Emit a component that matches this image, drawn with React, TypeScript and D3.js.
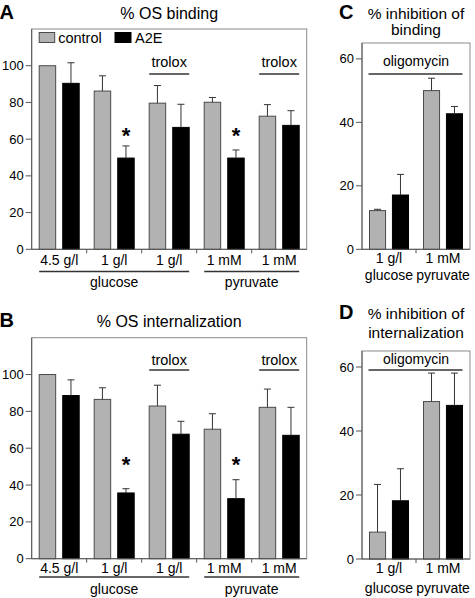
import React from 'react';
import * as d3 from 'd3';

// ---------- data ----------
const seriesNames = ['control', 'A2E'];
const mediumLabelsAB = ['4.5 g/l', '1 g/l', '1 g/l', '1 mM', '1 mM'];
const mediumSpansAB = [
  { label: 'glucose', from: 0, to: 2 },
  { label: 'pyruvate', from: 3, to: 4 },
];
const troloxGroups = [2, 4];
const starredGroups = [1, 3];
const ticksAB = [0, 20, 40, 60, 80, 100];
const yMaxAB = 120;

const controlBinding = [100, 86.2, 79.6, 80.1, 72.5];
const controlBindingErr = [0, 8.3, 9.6, 2.6, 6.3];
const a2eBinding = [90.4, 49.7, 66.4, 49.7, 67.5];
const a2eBindingErr = [11.2, 6.6, 12.6, 4.4, 8.0];

const controlInternal = [100, 86.5, 82.9, 70.3, 82.2];
const controlInternalErr = [0, 6.3, 11.3, 8.4, 9.9];
const a2eInternal = [88.6, 35.7, 67.6, 32.6, 67.0];
const a2eInternalErr = [8.5, 2.3, 7.0, 10.3, 15.2];

const mediumLabelsCD = ['1 g/l', '1 mM'];
const mediumNamesCD = ['glucose', 'pyruvate'];
const ticksCD = [0, 20, 40, 60];
const yMaxCD = 65;

const controlInhibBinding = [12.2, 50.0];
const controlInhibBindingErr = [0.4, 3.9];
const a2eInhibBinding = [17.1, 42.7];
const a2eInhibBindingErr = [6.5, 2.3];

const controlInhibInternal = [8.4, 49.2];
const controlInhibInternalErr = [14.9, 8.9];
const a2eInhibInternal = [18.2, 48.0];
const a2eInhibInternalErr = [10.0, 10.1];

// ---------- style ----------
const FONT = '"Liberation Sans", Arial, Helvetica, sans-serif';
const GRAY = '#b2b2b2';
const BLACK = '#000';
const FRAME = '#8a8a8a';
const AXIS = '#555';
const DARK = '#333';

type PanelCfg = {
  letter: string;
  titleLines: string[];
  titleY: number[];
  titleSize: number;
  x0: number; x1: number; yTop: number; yBottom: number;
  yMax: number; ticks: number[];
  labels: string[];
  control: number[]; controlErr: number[];
  a2e: number[]; a2eErr: number[];
  labelY: number;
  spans?: { label: string; from: number; to: number }[];
  spanLineY?: number; spanTextY?: number;
  names?: string[]; namesY?: number;
  trolox?: number[]; troloxTextY?: number; troloxLineY?: number;
  stars?: number[]; starOffset?: number;
  oligo?: boolean; oligoTextY?: number; oligoLineY?: number;
  legend?: boolean;
};

function Panel({ c }: { c: PanelCfg }) {
  const idx = d3.range(c.labels.length).map(String);
  const x = d3.scaleBand<string>().domain(idx).range([c.x0, c.x1]).padding(0);
  const bw = x.bandwidth();
  const inner = d3.scaleBand<string>().domain(seriesNames).range([7.5, bw - 7.5]).paddingInner(0.3).paddingOuter(0);
  const y = d3.scaleLinear().domain([0, c.yMax]).range([c.yBottom, c.yTop]);
  const series = [
    { name: 'control', vals: c.control, errs: c.controlErr, fill: GRAY, stroke: '#4a4a4a' },
    { name: 'A2E', vals: c.a2e, errs: c.a2eErr, fill: BLACK, stroke: BLACK },
  ];
  const gStart = (i: number) => (x(String(i)) as number) + (inner('control') as number);
  const gEnd = (i: number) => (x(String(i)) as number) + (inner('A2E') as number) + inner.bandwidth();
  const cx = (i: number) => (x(String(i)) as number) + bw / 2;
  const midX = (c.x0 + c.x1) / 2;

  return (
    <g fontFamily={FONT}>
      {/* letter and title */}
      <text x={c.x0 < 100 ? -0.5 : 339} y={c.titleY[0]} fontSize={20} fontWeight="bold">{c.letter}</text>
      {c.titleLines.map((t, i) => (
        <text key={i} x={midX} y={c.titleY[i]} fontSize={c.titleSize} textAnchor="middle">{t}</text>
      ))}
      {/* frame */}
      <rect x={c.x0} y={c.yTop} width={c.x1 - c.x0} height={c.yBottom - c.yTop} fill="none" stroke={FRAME} strokeWidth={1} />
      {/* bars */}
      {series.map((s) =>
        s.vals.map((v, i) => {
          const bx = (x(String(i)) as number) + (inner(s.name) as number);
          return (
            <rect key={s.name + i} x={bx} y={y(v)} width={inner.bandwidth()} height={y(0) - y(v)}
              fill={s.fill} stroke={s.stroke} strokeWidth={1} />
          );
        })
      )}
      {/* error bars */}
      {series.map((s) =>
        s.vals.map((v, i) => {
          const e = s.errs[i];
          if (!e) return null;
          const ex = (x(String(i)) as number) + (inner(s.name) as number) + inner.bandwidth() / 2;
          return (
            <g key={'e' + s.name + i} stroke={DARK} strokeWidth={1}>
              <line x1={ex} x2={ex} y1={y(v)} y2={y(v + e)} />
              <line x1={ex - 3.5} x2={ex + 3.5} y1={y(v + e)} y2={y(v + e)} />
            </g>
          );
        })
      )}
      {/* axes */}
      <line x1={c.x0} x2={c.x0} y1={c.yTop} y2={c.yBottom} stroke={AXIS} strokeWidth={1} />
      <line x1={c.x0} x2={c.x1} y1={c.yBottom} y2={c.yBottom} stroke={AXIS} strokeWidth={1} />
      {c.ticks.map((t) => (
        <g key={'t' + t}>
          <line x1={c.x0 - 6} x2={c.x0} y1={y(t)} y2={y(t)} stroke={AXIS} strokeWidth={1} />
          <text x={c.x0 - 8} y={y(t) + 4.5} fontSize={13} textAnchor="end">{t}</text>
        </g>
      ))}
      {idx.slice(1).map((k) => (
        <line key={'s' + k} x1={x(k)} x2={x(k)} y1={c.yBottom} y2={c.yBottom + 4} stroke={AXIS} strokeWidth={1} />
      ))}
      {/* category labels */}
      {c.labels.map((l, i) => (
        <text key={'l' + i} x={cx(i)} y={c.labelY} fontSize={14} textAnchor="middle">{l}</text>
      ))}
      {c.spans && c.spans.map((sp) => (
        <g key={sp.label}>
          <line x1={gStart(sp.from)} x2={gEnd(sp.to)} y1={c.spanLineY} y2={c.spanLineY} stroke={DARK} strokeWidth={1.6} />
          <text x={(gStart(sp.from) + gEnd(sp.to)) / 2} y={c.spanTextY} fontSize={14} textAnchor="middle">{sp.label}</text>
        </g>
      ))}
      {c.names && c.names.map((n, i) => (
        <text key={'n' + i} x={cx(i)} y={c.namesY} fontSize={14} textAnchor="middle">{n}</text>
      ))}
      {/* trolox */}
      {c.trolox && c.trolox.map((g) => (
        <g key={'tr' + g}>
          <line x1={gStart(g)} x2={gEnd(g)} y1={c.troloxLineY} y2={c.troloxLineY} stroke={DARK} strokeWidth={1.6} />
          <text x={(gStart(g) + gEnd(g)) / 2} y={c.troloxTextY} fontSize={14.5} textAnchor="middle">trolox</text>
        </g>
      ))}
      {/* stars */}
      {c.stars && (() => {
        const top = d3.min(c.stars, (g) => y(c.a2e[g] + c.a2eErr[g])) as number;
        return c.stars.map((g) => {
          const sx = (x(String(g)) as number) + (inner('A2E') as number) + inner.bandwidth() / 2;
          return (
            <text key={'st' + g} x={sx} y={top - (c.starOffset || 0) + 11.5} fontSize={22} fontWeight="bold" textAnchor="middle">*</text>
          );
        });
      })()}
      {/* oligomycin */}
      {c.oligo && (
        <g>
          <line x1={gStart(0) - 1} x2={gEnd(c.labels.length - 1)} y1={c.oligoLineY} y2={c.oligoLineY} stroke={DARK} strokeWidth={1.6} />
          <text x={(gStart(0) + gEnd(c.labels.length - 1)) / 2} y={c.oligoTextY} fontSize={14} textAnchor="middle">oligomycin</text>
        </g>
      )}
      {/* legend */}
      {c.legend && (
        <g fontSize={14.5}>
          <rect x={gStart(0)} y={32.5} width={15.5} height={10} fill={GRAY} stroke="#4a4a4a" />
          <text x={gStart(0) + 19} y={42.8}>control</text>
          <rect x={115} y={32.5} width={16} height={10} fill={BLACK} stroke={BLACK} />
          <text x={135} y={42.8}>A2E</text>
        </g>
      )}
    </g>
  );
}

const panels: PanelCfg[] = [
  {
    letter: 'A', titleLines: ['% OS binding'], titleY: [19], titleSize: 16,
    x0: 31.7, x1: 306.7, yTop: 29, yBottom: 249.3, yMax: yMaxAB, ticks: ticksAB,
    labels: mediumLabelsAB, control: controlBinding, controlErr: controlBindingErr,
    a2e: a2eBinding, a2eErr: a2eBindingErr,
    labelY: 265, spans: mediumSpansAB, spanLineY: 271.5, spanTextY: 287,
    trolox: troloxGroups, troloxTextY: 66.5, troloxLineY: 74,
    stars: starredGroups, starOffset: 14.5, legend: true,
  },
  {
    letter: 'B', titleLines: ['% OS internalization'], titleY: [327.3], titleSize: 16,
    x0: 31.7, x1: 306.7, yTop: 337.7, yBottom: 558.7, yMax: yMaxAB, ticks: ticksAB,
    labels: mediumLabelsAB, control: controlInternal, controlErr: controlInternalErr,
    a2e: a2eInternal, a2eErr: a2eInternalErr,
    labelY: 573.3, spans: mediumSpansAB, spanLineY: 577, spanTextY: 594,
    trolox: troloxGroups, troloxTextY: 365, troloxLineY: 370,
    stars: starredGroups, starOffset: 19.3,
  },
  {
    letter: 'C', titleLines: ['% inhibition of', 'binding'], titleY: [18.5, 34.5], titleSize: 15.5,
    x0: 362, x1: 470, yTop: 43, yBottom: 249.3, yMax: yMaxCD, ticks: ticksCD,
    labels: mediumLabelsCD, control: controlInhibBinding, controlErr: controlInhibBindingErr,
    a2e: a2eInhibBinding, a2eErr: a2eInhibBindingErr,
    labelY: 263, names: mediumNamesCD, namesY: 280,
    oligo: true, oligoTextY: 65.7, oligoLineY: 74,
  },
  {
    letter: 'D', titleLines: ['% inhibition of', 'internalization'], titleY: [319.4, 337.5], titleSize: 15.5,
    x0: 362, x1: 470, yTop: 351, yBottom: 559, yMax: yMaxCD, ticks: ticksCD,
    labels: mediumLabelsCD, control: controlInhibInternal, controlErr: controlInhibInternalErr,
    a2e: a2eInhibInternal, a2eErr: a2eInhibInternalErr,
    labelY: 572.7, names: mediumNamesCD, namesY: 593.3,
    oligo: true, oligoTextY: 364.3, oligoLineY: 370,
  },
];

export default function App() {
  return (
    <svg width={475} height={598} style={{ position: 'absolute', left: 0, top: 0, background: '#fff' }}>
      <rect x={0} y={0} width={475} height={598} fill="#fff" />
      {panels.map((p) => <Panel key={p.letter} c={p} />)}
    </svg>
  );
}
